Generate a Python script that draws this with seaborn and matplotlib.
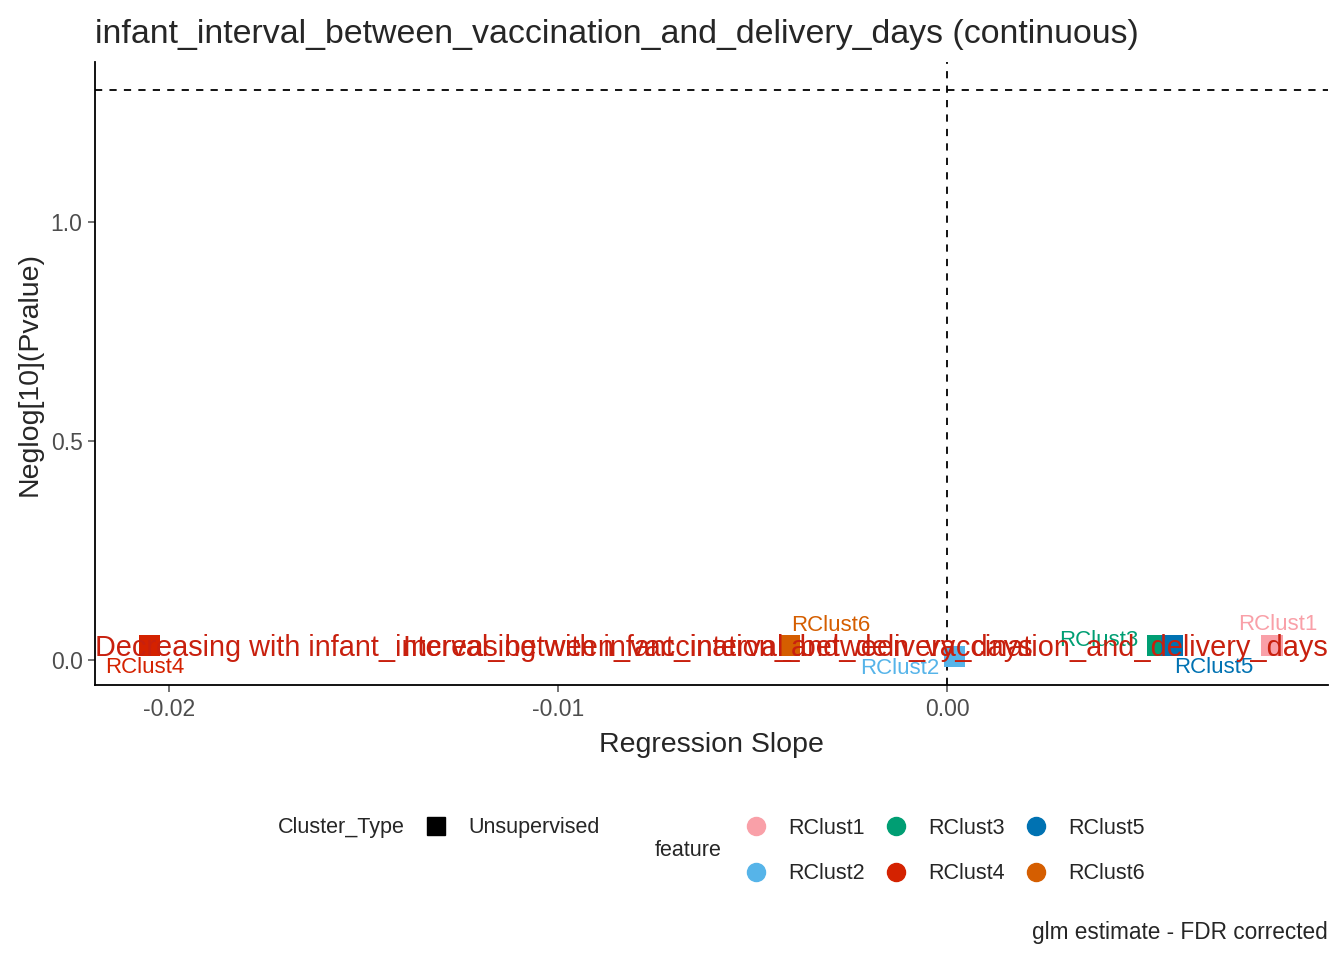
import pandas as pd
import seaborn as sns
import matplotlib.pyplot as plt
from matplotlib.lines import Line2D

features = ["RClust1", "RClust2", "RClust3", "RClust4", "RClust5", "RClust6"]
slopes = [0.00835, 0.0002, 0.0054, -0.02049, 0.00578, -0.00406]
neglog_p = [0.034, 0.009, 0.034, 0.034, 0.034, 0.034]
cluster_type = ["Unsupervised"] * 6
colors = ["#F9A0A8", "#56B4E9", "#009E73", "#D42200", "#0072B2", "#D55E00"]
# label offsets (points) for the repelled labels
label_off = {"RClust1": (4, 15), "RClust2": (-40, -9), "RClust3": (-42, 3),
             "RClust4": (-4, -16), "RClust5": (30, -16), "RClust6": (30, 14)}

df = pd.DataFrame({"feature": features, "slope": slopes, "neglog": neglog_p,
                   "Cluster_Type": cluster_type})
palette = dict(zip(features, colors))

sns.set_theme(style="ticks")
plt.rcParams['font.family'] = ['Liberation Sans', 'DejaVu Sans']

fig = plt.figure(figsize=(13.44, 9.6), dpi=100)
ax = fig.add_axes([95 / 1344, 1 - 685 / 960, (1328 - 95) / 1344, (685 - 62) / 960])

sns.scatterplot(data=df, x="slope", y="neglog", hue="feature", palette=palette,
                marker="s", s=230, linewidth=0, legend=False, ax=ax, zorder=3)

ax.axhline(1.30103, color="black", ls=(0, (4, 4)), lw=1.3)
ax.axvline(0, color="black", ls=(0, (4, 4)), lw=1.3)

for _, r in df.iterrows():
    ax.annotate(r["feature"], (r["slope"], r["neglog"]), xytext=label_off[r["feature"]],
                textcoords="offset points", ha="center", va="center",
                color=palette[r["feature"]], fontsize=16, zorder=4)

ax.text(0.0, 0.06, "Decreasing with infant_interval_between_vaccination_and_delivery_days",
        transform=ax.transAxes, ha="left", va="center", color="#C8200E", fontsize=20.8, zorder=5)
ax.text(1.0, 0.06, "Increasing with infant_interval_between_vaccination_and_delivery_days",
        transform=ax.transAxes, ha="right", va="center", color="#C8200E", fontsize=20.8, zorder=5)

ax.set_xlim(-0.0219, 0.00979)
ax.set_ylim(-0.057, 1.365)
ax.set_xticks([-0.02, -0.01, 0.0])
ax.set_xticklabels(["-0.02", "-0.01", "0.00"])
ax.set_yticks([0.0, 0.5, 1.0])
ax.set_yticklabels(["0.0", "0.5", "1.0"])
ax.tick_params(colors="#4D4D4D", labelsize=16.5, length=5, width=1.1, pad=4)
for s in ["left", "bottom"]:
    ax.spines[s].set_linewidth(1.3)
    ax.spines[s].set_color("black")
sns.despine(ax=ax)
ax.set_xlabel("Regression Slope", fontsize=20.5, labelpad=8)
ax.set_ylabel("Neglog[10](Pvalue)", fontsize=20.5, labelpad=6)
ax.set_title("infant_interval_between_vaccination_and_delivery_days (continuous)",
             loc="left", fontsize=24.4, pad=14)

# legends
fig.text(278 / 1344, 1 - 828 / 960, "Cluster_Type", fontsize=15.5, va="center", ha="left")
h1 = [Line2D([], [], marker="s", color="black", ls="", markersize=13)]
fig.legend(h1, ["Unsupervised"], loc="center left", bbox_to_anchor=(412 / 1344, 1 - 828 / 960),
           frameon=False, fontsize=15.5, handletextpad=0.9, borderpad=0, handlelength=1.2)

fig.text(655 / 1344, 1 - 851 / 960, "feature", fontsize=15.5, va="center", ha="left")
h2 = [Line2D([], [], marker="o", color=c, ls="", markersize=13) for c in colors]
fig.legend(h2, features, loc="center left", bbox_to_anchor=(732 / 1344, 1 - 851 / 960),
           frameon=False, fontsize=15.5, ncol=3, handletextpad=0.9, labelspacing=1.13,
           columnspacing=0.85, borderpad=0, handlelength=1.2)

fig.text(1328 / 1344, 1 - 933 / 960, "glm estimate - FDR corrected", fontsize=16.3,
         ha="right", va="center")

fig.savefig("out.png", dpi=100)
